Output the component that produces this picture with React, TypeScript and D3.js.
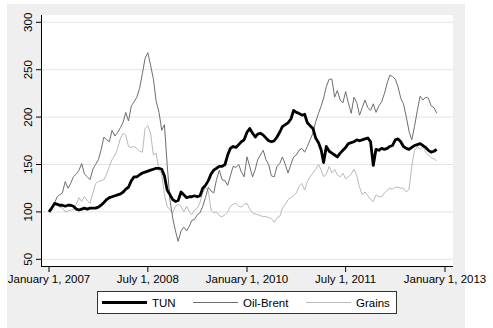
import { useEffect, useRef } from 'react';
import * as d3 from 'd3';

// semi-monthly observations, Jan 2007 .. mid Nov 2012 (1st and 16th of month)
const START = new Date(Date.UTC(2007, 0, 1));
const N_POINTS = 142;

const tun = [
  100, 104, 109, 108, 107, 107, 106, 107, 107, 106, 103, 102, 103, 104, 103, 104, 104, 104, 105, 107,
  110, 113, 115, 116, 117, 118, 119, 121, 124, 126, 133, 137, 137, 139, 141, 142, 143, 144, 145, 146,
  146, 145, 138, 123, 118, 113, 111, 112, 121, 118, 115, 116, 116, 117, 116, 117, 125, 128, 133, 140,
  144, 146, 148, 148, 150, 160, 167, 169, 168, 171, 174, 176, 184, 188, 183, 179, 182, 183, 181, 178,
  175, 174, 175, 179, 184, 190, 192, 194, 198, 207, 205, 204, 202, 203, 194, 191, 188, 178, 173, 165,
  152, 169, 164, 162, 160, 158, 162, 165, 168, 172, 173, 174, 176, 175, 176, 177, 178, 174, 149, 166,
  165, 167, 166, 167, 169, 170, 176, 177, 174, 169, 167, 166, 168, 170, 171, 172, 170, 168, 165, 163,
  164, 166,
];

const oilBrent = [
  100, 104, 110, 116, 118, 120, 132, 125, 130, 137, 140, 144, 151, 140, 137, 134, 145, 150, 155, 165,
  179, 176, 174, 186, 180, 184, 189, 195, 205, 196, 212, 216, 221, 230, 246, 262, 268, 255, 240, 217,
  205, 186, 192, 150, 112, 93, 80, 69, 80, 84, 80, 85, 91, 92, 97, 99, 106, 115, 126, 122,
  120, 134, 144, 134, 133, 128, 138, 148, 147, 150, 142, 137, 158, 148, 137, 145, 155, 160, 165, 155,
  150, 138, 137, 148, 151, 158, 150, 141, 150, 158, 160, 165, 167, 163, 169, 176, 183, 195, 204, 212,
  220, 232, 240, 240, 221, 228, 218, 215, 227, 215, 204, 221, 215, 202, 210, 218, 210, 207, 214, 205,
  212, 216, 225, 236, 244, 243, 240, 232, 220, 214, 200, 185, 176, 190, 207, 222, 218, 221, 220, 212,
  210, 204,
];

const grains = [
  100, 104, 109, 107, 105, 104, 100, 101, 102, 102, 108, 115, 111, 116, 112, 109, 120, 130, 132, 133,
  134, 140, 148, 155, 160, 167, 178, 183, 181, 169, 168, 169, 167, 164, 163, 188, 191, 183, 160, 162,
  144, 140, 118, 106, 102, 99, 106, 108, 106, 100, 106, 100, 97, 102, 104, 110, 120, 126, 122, 102,
  99, 100, 96, 95, 97, 100, 106, 108, 109, 106, 105, 108, 109, 103, 99, 98, 97, 96, 95, 95,
  94, 93, 89, 94, 95, 104, 108, 113, 115, 117, 120, 127, 130, 123, 132, 137, 141, 145, 150, 144,
  137, 140, 148, 141, 145, 139, 137, 141, 135, 137, 140, 145, 138, 126, 118, 121, 117, 113, 111, 118,
  116, 116, 120, 123, 125, 124, 126, 126, 125, 125, 121, 124, 148, 165, 169, 166, 169, 163, 160, 157,
  156, 154,
];

const yTicks = [50, 100, 150, 200, 250, 300];
const xTickDates = ['2007-01-01', '2008-07-01', '2010-01-01', '2011-07-01', '2013-01-01'];
const xTickLabels = ['January 1, 2007', 'July 1, 2008', 'January 1, 2010', 'July 1, 2011', 'January 1, 2013'];

const seriesNames = ['TUN', 'Oil-Brent', 'Grains'];
const seriesColors = ['#000000', '#6e6e6e', '#b9b9b9'];
const seriesWidths = [2.8, 1, 1];

const FONT = '"Liberation Sans", Arial, sans-serif';

export default function App() {
  const svgRef = useRef<SVGSVGElement>(null);

  useEffect(() => {
    if (!svgRef.current) return;
    const W = 493;
    const H = 328;
    const svg = d3.select(svgRef.current);
    svg.selectAll('*').remove();

    const dates: Date[] = [];
    for (let i = 0; i < N_POINTS; i++) {
      const m = d3.utcMonth.offset(START, Math.floor(i / 2));
      dates.push(i % 2 === 0 ? m : d3.utcDay.offset(m, 15));
    }

    // outer graph region
    svg.append('rect').attr('x', 0).attr('y', 0).attr('width', W).attr('height', H).attr('fill', '#ffffff');
    svg.append('rect').attr('x', 7).attr('y', 4).attr('width', 458).attr('height', H - 4).attr('fill', '#efefef');

    const plot = { left: 41, right: 453, top: 15, bottom: 267 };
    svg.append('rect')
      .attr('x', plot.left)
      .attr('y', plot.top)
      .attr('width', plot.right - plot.left)
      .attr('height', plot.bottom - plot.top)
      .attr('fill', '#ffffff');

    const parse = d3.utcParse('%Y-%m-%d');
    const x = d3.scaleUtc()
      .domain([parse('2007-01-01')!, parse('2013-01-01')!])
      .range([49, 445]);
    const y = d3.scaleLinear().domain([50, 300]).range([259.3, 22.3]);

    // gridlines
    svg.append('g')
      .selectAll('line')
      .data(yTicks)
      .enter()
      .append('line')
      .attr('x1', plot.left)
      .attr('x2', plot.right)
      .attr('y1', d => y(d))
      .attr('y2', d => y(d))
      .attr('stroke', '#e4e4e4')
      .attr('stroke-width', 1);

    // series
    const allSeries = [tun, oilBrent, grains];
    const line = d3.line<[Date, number]>()
      .x(d => x(d[0]))
      .y(d => y(d[1]));

    [2, 1, 0].forEach(si => {
      const pts = allSeries[si].map((v, i) => [dates[i], v] as [Date, number]);
      svg.append('path')
        .attr('d', line(pts))
        .attr('fill', 'none')
        .attr('stroke', seriesColors[si])
        .attr('stroke-width', seriesWidths[si])
        .attr('stroke-linejoin', 'round');
    });

    // y axis
    const yAxis = svg.append('g');
    yAxis.append('line')
      .attr('x1', plot.left + 0.5).attr('x2', plot.left + 0.5)
      .attr('y1', plot.top).attr('y2', plot.bottom)
      .attr('stroke', '#000').attr('stroke-width', 1);
    yAxis.selectAll('.tick')
      .data(yTicks)
      .enter()
      .append('line')
      .attr('x1', plot.left - 5).attr('x2', plot.left)
      .attr('y1', d => y(d)).attr('y2', d => y(d))
      .attr('stroke', '#000');
    yAxis.selectAll('text')
      .data(yTicks)
      .enter()
      .append('text')
      .attr('transform', d => `translate(32,${y(d)}) rotate(-90)`)
      .attr('text-anchor', 'middle')
      .attr('font-family', FONT)
      .attr('font-size', '11.5px')
      .attr('fill', '#000')
      .text(d => d);

    // x axis
    const xAxis = svg.append('g');
    xAxis.append('line')
      .attr('x1', plot.left).attr('x2', plot.right)
      .attr('y1', plot.bottom - 0.5).attr('y2', plot.bottom - 0.5)
      .attr('stroke', '#000').attr('stroke-width', 1);
    xAxis.selectAll('.tick')
      .data(xTickDates)
      .enter()
      .append('line')
      .attr('x1', d => x(parse(d)!)).attr('x2', d => x(parse(d)!))
      .attr('y1', plot.bottom).attr('y2', plot.bottom + 5)
      .attr('stroke', '#000');
    xAxis.selectAll('text')
      .data(xTickDates)
      .enter()
      .append('text')
      .attr('x', d => x(parse(d)!))
      .attr('y', 283)
      .attr('text-anchor', 'middle')
      .attr('font-family', FONT)
      .attr('font-size', '11.5px')
      .attr('fill', '#000')
      .text((d, i) => xTickLabels[i]);

    // legend
    const legend = svg.append('g');
    legend.append('rect')
      .attr('x', 97.5).attr('y', 291.5)
      .attr('width', 299).attr('height', 22)
      .attr('fill', '#ffffff')
      .attr('stroke', '#333')
      .attr('stroke-width', 1);
    const keyX = [102, 193, 306];
    seriesNames.forEach((name, i) => {
      legend.append('line')
        .attr('x1', keyX[i]).attr('x2', keyX[i] + 45)
        .attr('y1', 302.5).attr('y2', 302.5)
        .attr('stroke', seriesColors[i])
        .attr('stroke-width', seriesWidths[i]);
      legend.append('text')
        .attr('x', keyX[i] + 50)
        .attr('y', 306.5)
        .attr('font-family', FONT)
        .attr('font-size', '11.5px')
        .attr('fill', '#000')
        .text(name);
    });
  }, []);

  return (
    <svg
      ref={svgRef}
      width={493}
      height={328}
      style={{ position: 'absolute', left: 0, top: 0, display: 'block' }}
    />
  );
}
